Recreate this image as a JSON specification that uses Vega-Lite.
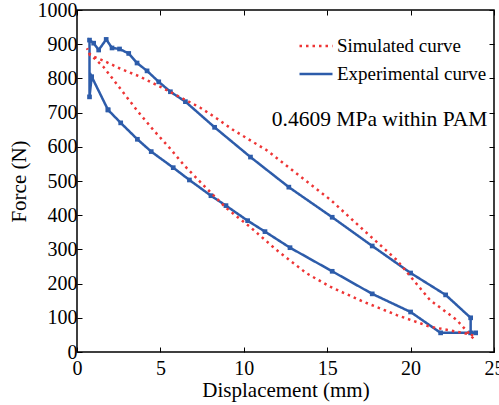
{
"$schema": "https://vega.github.io/schema/vega-lite/v6.json",
"width": 417, "height": 342,
"autosize": {"type": "none"},
"padding": {"left": 77, "top": 10, "right": 5, "bottom": 53},
"config": {
  "view": {"stroke": "black", "strokeWidth": 1.5},
  "font": "Liberation Serif",
  "axis": {"labelFont": "Liberation Serif", "labelFontSize": 20, "labelColor": "black", "labelFlush": false, "labelOverlap": false, "titleFont": "Liberation Serif", "titleFontSize": 21, "titleFontWeight": "normal", "titleColor": "black", "grid": false, "domain": false, "tickColor": "black", "tickWidth": 1, "tickSize": -5}
},
"datasets": {
  "exp": [
    {"series": "Experimental curve", "i": 1, "x": 1.86, "y": 708},
    {"series": "Experimental curve", "i": 2, "x": 0.88, "y": 805},
    {"series": "Experimental curve", "i": 3, "x": 0.75, "y": 746},
    {"series": "Experimental curve", "i": 4, "x": 0.75, "y": 912},
    {"series": "Experimental curve", "i": 5, "x": 1.0, "y": 903},
    {"series": "Experimental curve", "i": 6, "x": 1.3, "y": 883},
    {"series": "Experimental curve", "i": 7, "x": 1.75, "y": 914},
    {"series": "Experimental curve", "i": 8, "x": 2.1, "y": 889},
    {"series": "Experimental curve", "i": 9, "x": 2.55, "y": 886},
    {"series": "Experimental curve", "i": 10, "x": 3.1, "y": 873},
    {"series": "Experimental curve", "i": 11, "x": 3.6, "y": 845},
    {"series": "Experimental curve", "i": 12, "x": 4.2, "y": 822},
    {"series": "Experimental curve", "i": 13, "x": 4.9, "y": 790},
    {"series": "Experimental curve", "i": 14, "x": 5.6, "y": 761},
    {"series": "Experimental curve", "i": 15, "x": 6.5, "y": 732},
    {"series": "Experimental curve", "i": 16, "x": 8.25, "y": 657},
    {"series": "Experimental curve", "i": 17, "x": 10.4, "y": 570},
    {"series": "Experimental curve", "i": 18, "x": 12.7, "y": 482},
    {"series": "Experimental curve", "i": 19, "x": 15.3, "y": 394},
    {"series": "Experimental curve", "i": 20, "x": 17.7, "y": 310},
    {"series": "Experimental curve", "i": 21, "x": 20.0, "y": 231},
    {"series": "Experimental curve", "i": 22, "x": 22.1, "y": 167},
    {"series": "Experimental curve", "i": 23, "x": 23.6, "y": 100},
    {"series": "Experimental curve", "i": 24, "x": 23.6, "y": 56},
    {"series": "Experimental curve", "i": 25, "x": 23.9, "y": 56},
    {"series": "Experimental curve", "i": 26, "x": 21.8, "y": 56},
    {"series": "Experimental curve", "i": 27, "x": 20.0, "y": 117},
    {"series": "Experimental curve", "i": 28, "x": 17.7, "y": 170},
    {"series": "Experimental curve", "i": 29, "x": 15.3, "y": 236},
    {"series": "Experimental curve", "i": 30, "x": 12.77, "y": 305},
    {"series": "Experimental curve", "i": 31, "x": 11.27, "y": 352},
    {"series": "Experimental curve", "i": 32, "x": 10.23, "y": 384},
    {"series": "Experimental curve", "i": 33, "x": 8.93, "y": 428},
    {"series": "Experimental curve", "i": 34, "x": 8.03, "y": 457},
    {"series": "Experimental curve", "i": 35, "x": 6.74, "y": 503},
    {"series": "Experimental curve", "i": 36, "x": 5.77, "y": 539},
    {"series": "Experimental curve", "i": 37, "x": 4.45, "y": 586},
    {"series": "Experimental curve", "i": 38, "x": 3.62, "y": 622},
    {"series": "Experimental curve", "i": 39, "x": 2.62, "y": 670},
    {"series": "Experimental curve", "i": 40, "x": 1.86, "y": 708}
  ],
  "sim": [
    {"series": "Simulated curve", "i": 1, "x": 23.76, "y": 40},
    {"series": "Simulated curve", "i": 2, "x": 22.76, "y": 94},
    {"series": "Simulated curve", "i": 3, "x": 21.16, "y": 152},
    {"series": "Simulated curve", "i": 4, "x": 19.17, "y": 269},
    {"series": "Simulated curve", "i": 5, "x": 17.17, "y": 357},
    {"series": "Simulated curve", "i": 6, "x": 15.2, "y": 445},
    {"series": "Simulated curve", "i": 7, "x": 13.37, "y": 514},
    {"series": "Simulated curve", "i": 8, "x": 11.37, "y": 590},
    {"series": "Simulated curve", "i": 9, "x": 9.37, "y": 649},
    {"series": "Simulated curve", "i": 10, "x": 8.38, "y": 683},
    {"series": "Simulated curve", "i": 11, "x": 7.37, "y": 715},
    {"series": "Simulated curve", "i": 12, "x": 5.17, "y": 771},
    {"series": "Simulated curve", "i": 13, "x": 3.78, "y": 805},
    {"series": "Simulated curve", "i": 14, "x": 2.58, "y": 829},
    {"series": "Simulated curve", "i": 15, "x": 1.58, "y": 852},
    {"series": "Simulated curve", "i": 16, "x": 0.78, "y": 868},
    {"series": "Simulated curve", "i": 17, "x": 0.6, "y": 888},
    {"series": "Simulated curve", "i": 18, "x": 0.75, "y": 872},
    {"series": "Simulated curve", "i": 19, "x": 1.58, "y": 834},
    {"series": "Simulated curve", "i": 20, "x": 2.58, "y": 771},
    {"series": "Simulated curve", "i": 21, "x": 3.62, "y": 705},
    {"series": "Simulated curve", "i": 22, "x": 4.58, "y": 649},
    {"series": "Simulated curve", "i": 23, "x": 5.58, "y": 595},
    {"series": "Simulated curve", "i": 24, "x": 6.4, "y": 547},
    {"series": "Simulated curve", "i": 25, "x": 7.57, "y": 488},
    {"series": "Simulated curve", "i": 26, "x": 8.97, "y": 420},
    {"series": "Simulated curve", "i": 27, "x": 10.37, "y": 366},
    {"series": "Simulated curve", "i": 28, "x": 11.97, "y": 298},
    {"series": "Simulated curve", "i": 29, "x": 13.77, "y": 230},
    {"series": "Simulated curve", "i": 30, "x": 15.17, "y": 191},
    {"series": "Simulated curve", "i": 31, "x": 17.17, "y": 147},
    {"series": "Simulated curve", "i": 32, "x": 19.17, "y": 108},
    {"series": "Simulated curve", "i": 33, "x": 21.16, "y": 74},
    {"series": "Simulated curve", "i": 34, "x": 23.16, "y": 56},
    {"series": "Simulated curve", "i": 35, "x": 23.76, "y": 48}
  ],
  "note": [{"label": "0.4609 MPa within PAM", "x": 24.6, "y": 678}]
},
"layer": [
  {
    "data": {"name": "exp"},
    "mark": {"type": "line", "strokeWidth": 2.5, "point": {"shape": "square", "size": 22, "filled": true, "color": "#2D5CAA"}},
    "encoding": {
      "x": {"field": "x", "type": "quantitative", "scale": {"domain": [0, 25], "nice": false}, "axis": {"orient": "bottom", "values": [0, 5, 10, 15, 20, 25], "title": "Displacement (mm)", "labelPadding": 11, "titlePadding": 1}},
      "y": {"field": "y", "type": "quantitative", "scale": {"domain": [0, 1000], "nice": false}, "axis": {"orient": "left", "format": "d", "values": [0, 100, 200, 300, 400, 500, 600, 700, 800, 900, 1000], "title": "Force (N)", "labelPadding": 5, "titlePadding": 8}},
      "order": {"field": "i", "type": "quantitative"},
      "color": {"field": "series", "type": "nominal", "scale": {"domain": ["Simulated curve", "Experimental curve"], "range": ["#EE3535", "#2D5CAA"]}, "legend": {"orient": "none", "legendX": 221, "legendY": 18, "title": null, "symbolType": "stroke", "symbolSize": 1089, "symbolStrokeWidth": 2.5, "labelFont": "Liberation Serif", "labelFontSize": 19, "labelColor": "black", "labelOffset": 3, "rowPadding": -7, "padding": 0}},
      "strokeDash": {"field": "series", "type": "nominal", "scale": {"domain": ["Simulated curve", "Experimental curve"], "range": [[2.5, 4], [1, 0]]}, "legend": {"orient": "none", "legendX": 221, "legendY": 18, "title": null, "symbolType": "stroke", "symbolSize": 1089, "symbolStrokeWidth": 2.5, "labelFont": "Liberation Serif", "labelFontSize": 19, "labelColor": "black", "labelOffset": 3, "rowPadding": -7, "padding": 0}}
    }
  },
  {
    "data": {"name": "sim"},
    "mark": {"type": "line", "strokeWidth": 2.5, "strokeCap": "butt"},
    "encoding": {
      "x": {"field": "x", "type": "quantitative", "axis": {"orient": "top", "values": [0, 5, 10, 15, 20, 25], "labels": false, "title": null}},
      "y": {"field": "y", "type": "quantitative", "axis": {"orient": "right", "values": [0, 100, 200, 300, 400, 500, 600, 700, 800, 900, 1000], "labels": false, "title": null}},
      "order": {"field": "i", "type": "quantitative"},
      "color": {"field": "series", "type": "nominal"},
      "strokeDash": {"field": "series", "type": "nominal"}
    }
  },
  {
    "data": {"name": "note"},
    "mark": {"type": "text", "align": "right", "baseline": "middle", "font": "Liberation Serif", "fontSize": 21.5, "color": "black"},
    "encoding": {
      "x": {"field": "x", "type": "quantitative", "axis": null},
      "y": {"field": "y", "type": "quantitative", "axis": null},
      "text": {"field": "label"}
    }
  }
],
"resolve": {"axis": {"x": "independent", "y": "independent"}}
}
